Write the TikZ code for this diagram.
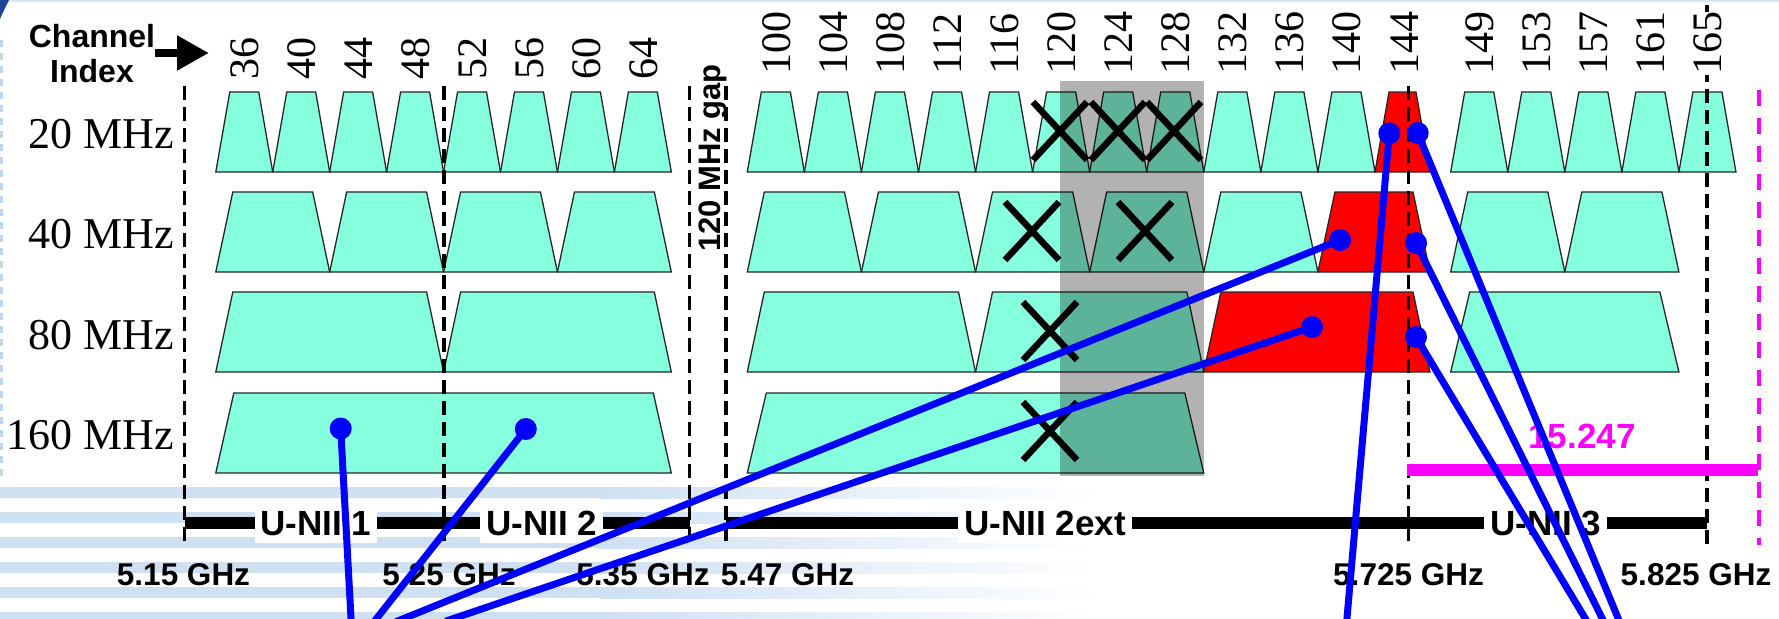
\documentclass[tikz,border=0pt]{standalone}
\usepackage{fontspec}
\setmainfont{Liberation Serif}
\newfontfamily\sansf{Liberation Sans}
\usetikzlibrary{arrows.meta}
\definecolor{teal1}{RGB}{134,255,222}
\definecolor{stripe}{RGB}{207,224,243}
\definecolor{darkcorner}{RGB}{30,70,150}
\definecolor{edgeblue}{RGB}{190,214,238}
\definecolor{mag}{RGB}{255,0,255}
\newcommand\trapz[5]{\filldraw[trap,fill=#5] ({#1},{#3+80}) -- ({#1+#4},{#3}) -- ({#2-#4},{#3}) -- ({#2},{#3+80}) -- cycle;}
\newcommand\xm[2]{\draw[xmark] ({#1-27},{#2-29}) -- ({#1+27},{#2+29}) ({#1-27},{#2+29}) -- ({#1+27},{#2-29});}
\begin{document}
\begin{tikzpicture}[x=1pt,y=-1pt,
  trap/.style={draw=black!85,line width=1.3pt,line join=miter},
  xmark/.style={line width=6.5pt},
  bandsep/.style={line width=3.5pt,dash pattern=on 14pt off 7pt},
  chlab/.style={rotate=90,anchor=base west,inner sep=0pt,fill=white,font=\fontsize{42}{42}\selectfont},
  rowlab/.style={anchor=base east,inner sep=0pt,font=\fontsize{44}{44}\selectfont},
  ghz/.style={anchor=base,inner sep=0pt,font=\sansf\bfseries\fontsize{31.5}{31.5}\selectfont},
  unii/.style={anchor=base,fill=white,inner xsep=6pt,inner ysep=0pt,text height=27pt,text depth=8pt,font=\sansf\bfseries\fontsize{35}{35}\selectfont},
  dot/.style={circle,fill=blue,inner sep=0pt,minimum size=22pt},
  blueline/.style={blue,line width=7pt,shorten >=-10pt},
]
\useasboundingbox (0,0) rectangle (1779,618);
\fill[white] (0,0) rectangle (1779,618);
% slide background
\fill[edgeblue!60] (0,0) rectangle (1779,2);
\fill[darkcorner] (0,0) -- (9,0) .. controls (6,6) and (3,12) .. (0,19) -- cycle;
\foreach \y in {40,53,...,480} {\fill[edgeblue] (0,\y) rectangle (3,\y+7);}
\foreach \y in {487,512,...,612} {
  \fill[stripe] (0,\y) rectangle (600,\y+11);
  \shade[left color=stripe,right color=white] (600,\y) rectangle (1100,\y+11);
}
% 20 MHz
\foreach \k in {0,...,7} {\trapz{215.8+56.94*\k}{215.8+56.94*(\k+1)}{92}{14}{teal1}}
\foreach \k in {0,...,10} {\trapz{747.3+57.06*\k}{747.3+57.06*(\k+1)}{92}{14}{teal1}}
\trapz{1375}{1430}{92}{14}{red}
\foreach \k in {0,...,4} {\trapz{1450.7+57.05*\k}{1450.7+57.05*(\k+1)}{92}{14}{teal1}}
% 40 MHz
\foreach \k in {0,...,3} {\trapz{215.8+113.88*\k}{215.8+113.88*(\k+1)}{192}{17}{teal1}}
\foreach \k in {0,...,4} {\trapz{747.3+114.12*\k}{747.3+114.12*(\k+1)}{192}{17}{teal1}}
\trapz{1317.9}{1430}{192}{17}{red}
\trapz{1450.7}{1564.8}{192}{17}{teal1}
\trapz{1564.8}{1678.9}{192}{17}{teal1}
% 80 MHz
\trapz{215.8}{443.6}{292}{17}{teal1}
\trapz{443.6}{671.3}{292}{17}{teal1}
\trapz{747.3}{975.5}{292}{17}{teal1}
\trapz{975.5}{1203.8}{292}{17}{teal1}
\trapz{1203.8}{1430}{292}{17}{red}
\trapz{1450.7}{1678.9}{292}{19}{teal1}
% 160 MHz
\trapz{215.8}{671.3}{393}{18}{teal1}
\trapz{747.3}{1203.8}{393}{19}{teal1}
% shaded (unavailable) block
\fill[black,opacity=0.3] (1060.4,81) rectangle (1203.7,476);
% crosses
\xm{1060}{131}\xm{1118}{131}\xm{1174}{131}
\xm{1032}{231}\xm{1145}{231}
\xm{1050}{331}\xm{1050}{431}
% band edges
\foreach \x in {184.6,444,689.7,726,1408.4} {\draw[bandsep] (\x,86) -- (\x,548);}
\draw[bandsep] (1707,5) -- (1707,548);
\draw[mag,line width=4pt,dash pattern=on 16pt off 12pt] (1759,90) -- (1759,545);
% band bars
\draw[line width=12pt] (184.6,523) -- (689.7,523);
\draw[line width=12pt] (726,523) -- (1707,523);
\draw[mag,line width=12pt] (1407,470) -- (1758,470);
\node[unii] (u1) at (316,535) {U-NII 1};
\node[unii] (u2) at (541.5,535) {U-NII 2};
\node[unii] (u2e) at (1045,535) {U-NII 2ext};
\node[unii] (u3) at (1545.5,535) {U-NII 3};
\node[anchor=base,inner sep=0pt,text=mag,font=\sansf\bfseries\fontsize{35}{35}\selectfont] (r15247) at (1582,448) {15.247};
% frequency labels
\node[ghz] (f515) at (183.5,585) {5.15 GHz};
\node[ghz] (f525) at (449,585) {5.25 GHz};
\node[ghz] (f535) at (643,585) {5.35 GHz};
\node[ghz] (f547) at (787.5,585) {5.47 GHz};
\node[ghz] (f5725) at (1408.5,585) {5.725 GHz};
\node[ghz] (f5825) at (1696,585) {5.825 GHz};
% channel labels
\foreach \n [count=\k from 0] in {36,40,44,48,52,56,60,64}
  {\node[chlab] (ch\n) at ({215.8+56.94*(\k+0.5)+14.5},80) {\n};}
\foreach \n [count=\k from 0] in {100,104,108,112,116,120,124,128,132,136,140,144}
  {\node[chlab] (ch\n) at ({747.3+57.06*(\k+0.5)+14.5},75) {\n};}
\foreach \n [count=\k from 0] in {149,153,157,161,165}
  {\node[chlab] (ch\n) at ({1450.7+57.05*(\k+0.5)+14.5},75) {\n};}
% row labels
\node[rowlab] (r20) at (174,148.5) {20 MHz};
\node[rowlab] (r40) at (174,248.5) {40 MHz};
\node[rowlab] (r80) at (174,349) {80 MHz};
\node[rowlab] (r160) at (174,449.5) {160 MHz};
\node[rotate=90,anchor=base,inner sep=0pt,font=\sansf\bfseries\fontsize{31}{31}\selectfont] (gap) at (720,158) {120 MHz gap};
% channel index
\node[anchor=north,align=center,inner sep=0pt,font=\sansf\bfseries\fontsize{32}{35}\selectfont] (chidx) at (92,24) {Channel\\Index};
\coordinate (chtip) at (209,53);
\draw[line width=8pt,-{Triangle[length=32pt,width=33pt]}] (chidx.east |- chtip) -- (chtip);
% blue pointers
\node[dot] (d1) at (340.7,428.5) {};
\node[dot] (d2) at (525.8,429) {};
\node[dot] (d3) at (1340,240) {};
\node[dot] (d4) at (1312,327) {};
\node[dot] (d5) at (1389.3,133.3) {};
\node[dot] (d6) at (1417.7,133) {};
\node[dot] (d7) at (1416,243) {};
\node[dot] (d8) at (1416,337) {};
\coordinate (e1) at (351,618);
\coordinate (e2) at (377,618);
\coordinate (e3) at (405,618);
\coordinate (e4) at (455,618);
\coordinate (e5) at (1347,618);
\coordinate (e6) at (1618,618);
\coordinate (e7) at (1602,618);
\coordinate (e8) at (1585,618);
\foreach \i in {1,...,8} {\draw[blueline] (d\i.center) -- (e\i);}
\end{tikzpicture}
\end{document}
